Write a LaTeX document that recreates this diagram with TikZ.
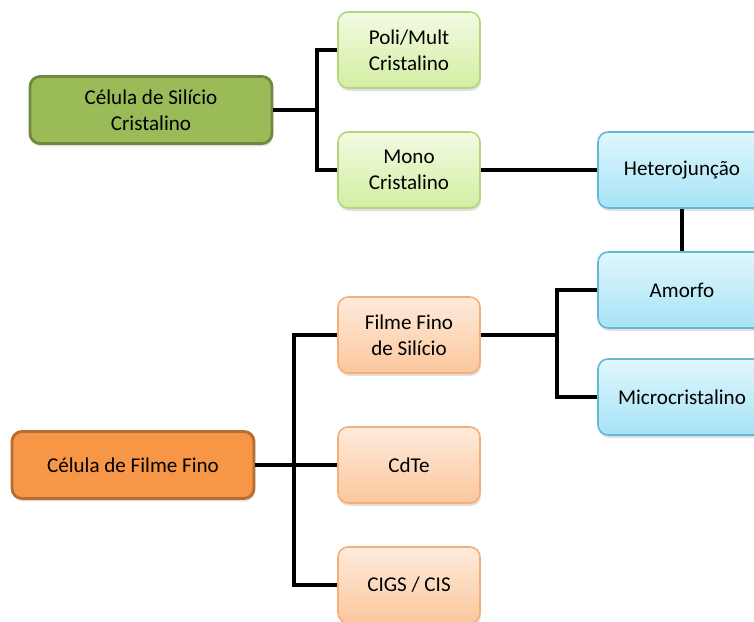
\documentclass[tikz,border=0pt]{standalone}
\usepackage{fontspec}
\setmainfont{Carlito}
\usetikzlibrary{shadows}

\definecolor{verdeesc}{HTML}{9BBB59}
\definecolor{verdeborda}{HTML}{71893F}
\definecolor{verdeclaro}{HTML}{F2FBE2}
\definecolor{verdemed}{HTML}{D3EEA2}
\definecolor{verdelinha}{HTML}{B4D67A}
\definecolor{laranjaesc}{HTML}{F79646}
\definecolor{laranjaborda}{HTML}{B66D31}
\definecolor{laranjaclaro}{HTML}{FEEBDC}
\definecolor{laranjamed}{HTML}{FBC79C}
\definecolor{laranjalinha}{HTML}{F5AE78}
\definecolor{azulclaro}{HTML}{E0F6FD}
\definecolor{azulmed}{HTML}{A6E3F6}
\definecolor{azullinha}{HTML}{62B9D5}

\begin{document}
\begin{tikzpicture}[x=0.02cm, y=-0.02cm,
    caixa/.style={rounded corners=0.2cm, align=center, line width=0.9pt,
      minimum width=2.84cm, minimum height=1.52cm,
      font=\fontsize{12}{14.6}\selectfont,
      drop shadow={shadow xshift=0.6pt, shadow yshift=-1.6pt, opacity=0.25}},
    principal/.style={caixa, minimum width=4.84cm, minimum height=1.34cm, line width=1.6pt},
    verde/.style={caixa, draw=verdelinha, top color=verdeclaro, bottom color=verdemed},
    laranja/.style={caixa, draw=laranjalinha, top color=laranjaclaro, bottom color=laranjamed},
    azul/.style={caixa, draw=azullinha, top color=azulclaro, bottom color=azulmed, minimum width=3.36cm},
    liga/.style={line width=2.2pt, black}]
    \useasboundingbox (0,0) rectangle (754,622);
    \clip (0,0) rectangle (754,622);

    % silicio cristalino
    \node[principal, draw=verdeborda, fill=verdeesc] (silicio) at (151,110) {Célula de Silício\\Cristalino};
    \node[verde] (poli) at (409,50) {Poli/Mult\\Cristalino};
    \node[verde] (mono) at (409,170) {Mono\\Cristalino};

    % filme fino
    \node[principal, draw=laranjaborda, fill=laranjaesc] (filme) at (133,465) {Célula de Filme Fino};
    \node[laranja] (ffsi) at (409,335) {Filme Fino\\de Silício};
    \node[laranja] (cdte) at (409,465) {CdTe};
    \node[laranja] (cigs) at (409,585) {CIGS / CIS};

    % tecnologias a direita
    \node[azul] (hetero) at (682,170) {Heterojunção};
    \node[azul] (amorfo) at (682,290) {Amorfo};
    \node[azul] (micro) at (682,397) {Microcristalino};

    \draw[liga] (silicio.east) -- ++(44,0) |- (poli.west);
    \draw[liga] (silicio.east) -- ++(44,0) |- (mono.west);
    \draw[liga] (mono.east) -- (hetero.west);
    \draw[liga] (hetero.south) -- (amorfo.north);
    \draw[liga] (filme.east) -- ++(39,0) |- (ffsi.west);
    \draw[liga] (filme.east) -- (cdte.west);
    \draw[liga] (filme.east) -- ++(39,0) |- (cigs.west);
    \draw[liga] (ffsi.east) -- ++(76,0) |- (amorfo.west);
    \draw[liga] (ffsi.east) -- ++(76,0) |- (micro.west);
  \end{tikzpicture}
\end{document}
